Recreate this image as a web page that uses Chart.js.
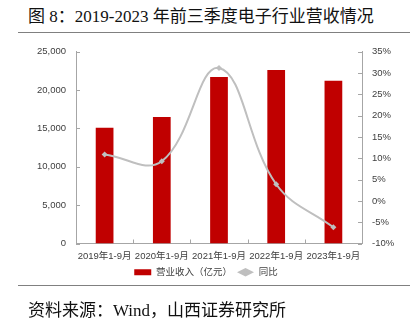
<!DOCTYPE html>
<html>
<head>
<meta charset="utf-8">
<script src="https://cdn.jsdelivr.net/npm/chart.js@4"></script>
<style>
  body { margin: 0; width: 412px; height: 328px; background: #fff; position: relative; overflow: hidden; }
  .title { position: absolute; left: 28px; top: 2px; font: 17px "Liberation Serif", "Noto Sans CJK SC"; color: #111; white-space: nowrap; }
  .rule { position: absolute; left: 18px; width: 392px; height: 0; border-top: 1.5px solid #808080; }
  .source { position: absolute; left: 28px; top: 296px; font: 17px "Liberation Serif", "Noto Sans CJK SC"; color: #111; white-space: nowrap; }
  #wrap { position: absolute; left: 0; top: 36px; width: 412px; height: 251px; }
</style>
</head>
<body>
<div class="title">图 8：2019-2023 年前三季度电子行业营收情况</div>
<div class="rule" style="top:32px"></div>
<div id="wrap"><canvas id="graph" width="412" height="251"></canvas></div>
<div class="rule" style="top:285px"></div>
<div class="source">资料来源：Wind，山西证券研究所</div>
<script>
const categories = ['2019年1-9月', '2020年1-9月', '2021年1-9月', '2022年1-9月', '2023年1-9月'];
const revenue = [15100, 16500, 21700, 22600, 21200];   // 营业收入（亿元）
const growth = [10.9, 9.3, 31.2, 3.9, -6.2];           // 同比 %
const leftTicks = [0, 5000, 10000, 15000, 20000, 25000];
const rightTicks = [-10, -5, 0, 5, 10, 15, 20, 25, 30, 35];

const axisColor = '#a6a6a6';
const labelFont = { family: 'Liberation Sans, Noto Sans CJK SC', size: 9.5 };

// short tick marks pointing into the plot
const innerTicks = {
  id: 'innerTicks',
  afterDraw(chart) {
    const { ctx, chartArea: a, scales } = chart;
    ctx.save();
    ctx.strokeStyle = axisColor;
    ctx.lineWidth = 1;
    ctx.beginPath();
    leftTicks.forEach(v => {
      const y = Math.round(scales.y.getPixelForValue(v)) + 0.5;
      ctx.moveTo(a.left, y); ctx.lineTo(a.left + 4, y);
    });
    rightTicks.forEach(v => {
      const y = Math.round(scales.y1.getPixelForValue(v)) + 0.5;
      ctx.moveTo(a.right - 4, y); ctx.lineTo(a.right, y);
    });
    for (let i = 0; i <= categories.length; i++) {
      const x = Math.round(scales.x.getPixelForValue(i - 0.5)) + 0.5;
      ctx.moveTo(x, a.bottom); ctx.lineTo(x, a.bottom - 4);
    }
    ctx.stroke();

    // marker in the middle of the line legend sample
    const legend = chart.legend;
    const idx = legend.legendItems.findIndex(it => it.datasetIndex === 1);
    const box = legend.legendHitBoxes && legend.legendHitBoxes[idx];
    if (box) {
      const w = legend.options.labels.pointStyleWidth;
      const cx = box.left + w / 2, cy = box.top + box.height / 2;
      ctx.fillStyle = '#bfbfbf';
      ctx.beginPath();
      ctx.moveTo(cx, cy - 2.5); ctx.lineTo(cx + 2.5, cy); ctx.lineTo(cx, cy + 2.5); ctx.lineTo(cx - 2.5, cy);
      ctx.closePath();
      ctx.fill();
    }
    ctx.restore();
  }
};

const noGrid = { display: false, drawTicks: false };

new Chart(document.querySelector('#graph').getContext('2d'), {
  data: {
    labels: categories,
    datasets: [{
      type: 'bar',
      label: '营业收入（亿元）',
      data: revenue,
      yAxisID: 'y',
      backgroundColor: '#c00000',
      categoryPercentage: 1,
      barPercentage: 0.31,
      order: 2,
      pointStyle: 'rect'
    }, {
      type: 'line',
      label: '同比',
      data: growth,
      yAxisID: 'y1',
      borderColor: '#bfbfbf',
      backgroundColor: '#bfbfbf',
      borderWidth: 2,
      tension: 0.4,
      pointStyle: 'rectRot',
      pointRadius: 3,
      pointBorderWidth: 0,
      order: 1
    }]
  },
  options: {
    responsive: false,
    animation: false,
    devicePixelRatio: 1,
    layout: { padding: { top: 12, left: 0, right: 0, bottom: 0 } },
    plugins: {
      tooltip: { enabled: false },
      legend: {
        position: 'bottom',
        labels: {
          usePointStyle: true,
          pointStyleWidth: 17,
          boxHeight: 6,
          padding: 5,
          color: '#404040',
          font: labelFont,
          sort: (a, b) => a.datasetIndex - b.datasetIndex
        }
      }
    },
    scales: {
      x: {
        grid: noGrid,
        border: { color: axisColor },
        ticks: { color: '#404040', font: labelFont, padding: 7, maxRotation: 0, autoSkip: false },
        afterFit(s) { s.height = 19; }
      },
      y: {
        position: 'left',
        min: 0, max: 25000,
        afterBuildTicks(s) { s.ticks = leftTicks.map(v => ({ value: v })); },
        grid: noGrid,
        border: { color: axisColor },
        ticks: {
          color: '#404040', font: labelFont, padding: 10, autoSkip: false,
          callback: v => v.toLocaleString('en-US')
        },
        afterFit(s) { s.width = 76; }
      },
      y1: {
        position: 'right',
        min: -10, max: 35,
        afterBuildTicks(s) { s.ticks = rightTicks.map(v => ({ value: v })); },
        grid: noGrid,
        border: { color: axisColor },
        ticks: { color: '#404040', font: labelFont, padding: 10, autoSkip: false, callback: v => v + '%' },
        afterFit(s) { s.width = 50; }
      }
    }
  },
  plugins: [innerTicks]
});
</script>
</body>
</html>
